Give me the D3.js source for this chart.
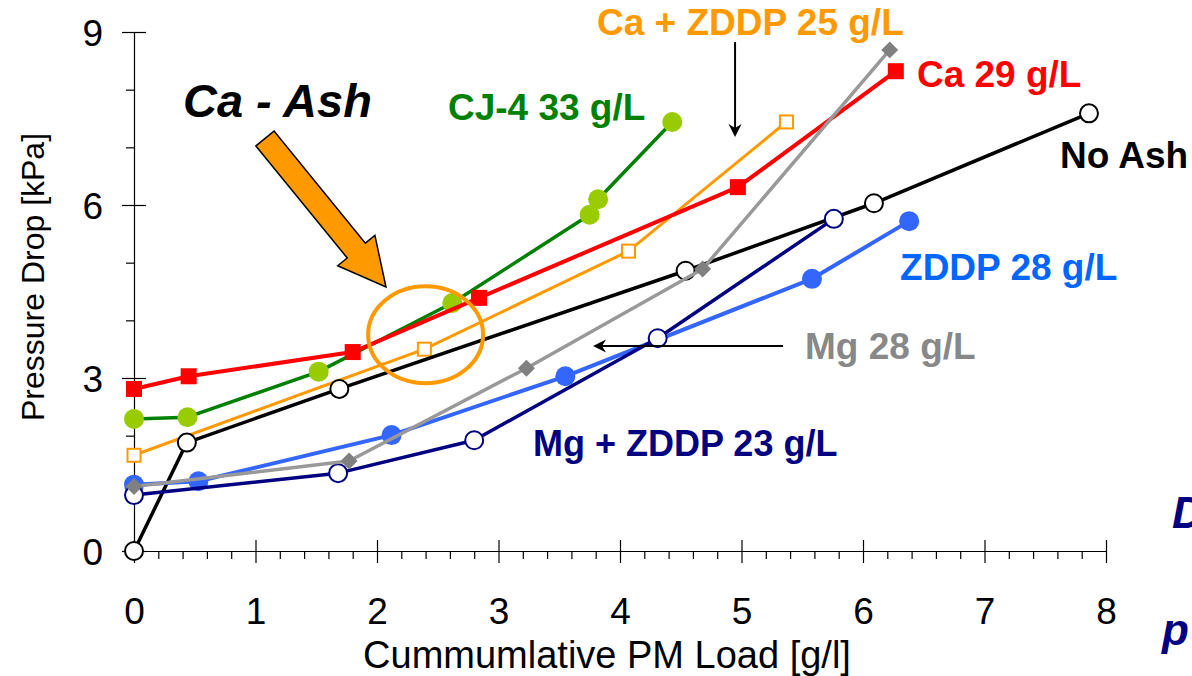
<!DOCTYPE html>
<html>
<head>
<meta charset="utf-8">
<script src="https://cdn.jsdelivr.net/npm/d3@7"></script>
<style>
  html, body { margin: 0; padding: 0; background: #fff; }
  svg { display: block; font-family: "Liberation Sans", Arial, Helvetica, sans-serif; }
</style>
</head>
<body>
<svg id="chart" width="1192" height="676"></svg>
<script>
// ---------- data ----------
const xTicks = [0, 1, 2, 3, 4, 5, 6, 7, 8];
const yTicks = [0, 3, 6, 9];

const noAshX = [0, 0.435, 1.69, 4.54, 6.09, 7.86];
const noAshY = [0, 1.88, 2.81, 4.86, 6.03, 7.59];

const ca29X = [0, 0.45, 1.80, 2.84, 4.97, 6.27];
const ca29Y = [2.81, 3.03, 3.45, 4.39, 6.31, 8.32];

const cj4X = [0, 0.44, 1.52, 2.62, 3.75, 3.82, 4.43];
const cj4Y = [2.29, 2.32, 3.11, 4.30, 5.83, 6.10, 7.44];

const caZddpX = [0, 2.39, 4.07, 5.37];
const caZddpY = [1.66, 3.50, 5.20, 7.44];

const mg28X = [0, 1.77, 3.23, 4.68, 6.22];
const mg28Y = [1.12, 1.56, 3.17, 4.89, 8.69];

const zddp28X = [0, 0.53, 2.12, 3.55, 5.58, 6.38];
const zddp28Y = [1.15, 1.21, 2.01, 3.03, 4.72, 5.72];

const mgZddpX = [0, 1.68, 2.80, 4.31, 5.76];
const mgZddpY = [0.97, 1.35, 1.92, 3.69, 5.76];

// ---------- styles ----------
const series = [
  { x: cj4X, y: cj4Y, line: "#008000", lw: 3.5, marker: "circle", size: 10, fill: "#99CC00", stroke: "none", sw: 0 },
  { x: caZddpX, y: caZddpY, line: "#FF9900", lw: 3, marker: "square", size: 13, fill: "#FFFFFF", stroke: "#FF9900", sw: 2 },
  { x: ca29X, y: ca29Y, line: "#FF0000", lw: 4, marker: "square", size: 16, fill: "#FF0000", stroke: "none", sw: 0 },
  { x: noAshX, y: noAshY, line: "#000000", lw: 3.5, marker: "circle", size: 9, fill: "#FFFFFF", stroke: "#000000", sw: 2 },
  { x: zddp28X, y: zddp28Y, line: "#3366FF", lw: 4, marker: "circle", size: 10, fill: "#3366FF", stroke: "none", sw: 0 },
  { x: mgZddpX, y: mgZddpY, line: "#000080", lw: 3.5, marker: "circle", size: 9, fill: "#FFFFFF", stroke: "#000080", sw: 2 },
  { x: mg28X, y: mg28Y, line: "#999999", lw: 3.5, marker: "diamond", size: 12, fill: "#808080", stroke: "none", sw: 0 }
];

const labels = [
  { text: "Ca - Ash", x: 0.403, y: 7.526, color: "#000000", size: 47, italic: true },
  { text: "CJ-4 33 g/L", x: 2.584, y: 7.474, color: "#008000", size: 37 },
  { text: "Ca + ZDDP 25 g/L", x: 3.811, y: 8.948, color: "#FF9900", size: 37 },
  { text: "Ca 29 g/L", x: 6.444, y: 8.046, color: "#FF0000", size: 37 },
  { text: "No Ash", x: 7.621, y: 6.641, color: "#000000", size: 37 },
  { text: "ZDDP 28 g/L", x: 6.305, y: 4.699, color: "#0066FF", size: 37 },
  { text: "Mg 28 g/L", x: 5.523, y: 3.329, color: "#888888", size: 37 },
  { text: "Mg + ZDDP 23 g/L", x: 3.284, y: 1.647, color: "#000080", size: 36 },
  { text: "D", x: 8.543, y: 0.399, color: "#000080", size: 44, italic: true },
  { text: "p", x: 8.461, y: -1.63, color: "#000080", size: 44, italic: true }
];

// ---------- layout ----------
const svg = d3.select("#chart");
const x = d3.scaleLinear().domain([0, 8]).range([134, 1106]);
const y = d3.scaleLinear().domain([0, 9]).range([551, 32]);

// axes
const minorX = d3.range(0, 8.0001, 0.2).map(v => +v.toFixed(1)).filter(v => Math.abs(v - Math.round(v)) > 1e-6);
const minorY = [1, 2, 4, 5, 7, 8];

svg.append("g").attr("transform", `translate(0,${y(0)})`)
  .call(d3.axisBottom(x).tickValues(minorX).tickSize(8).tickFormat(""))
  .call(g => g.select(".domain").remove());
svg.append("g").attr("transform", `translate(0,${y(0)})`)
  .call(d3.axisTop(x).tickValues(xTicks).tickSize(11).tickFormat(""))
  .call(g => g.select(".domain").remove());
const gx = svg.append("g").attr("transform", `translate(0,${y(0)})`)
  .call(d3.axisBottom(x).tickValues(xTicks).tickSize(12).tickSizeOuter(0).tickFormat(d3.format("d")));
gx.selectAll("text").attr("y", 73).attr("dy", null)
  .attr("font-size", 37).attr("font-family", "Liberation Sans, Arial, sans-serif").attr("fill", "#000");

svg.append("g").attr("transform", `translate(${x(0)},0)`)
  .call(d3.axisLeft(y).tickValues(minorY).tickSize(8).tickFormat(""))
  .call(g => g.select(".domain").remove());
svg.append("g").attr("transform", `translate(${x(0)},0)`)
  .call(d3.axisRight(y).tickValues(yTicks).tickSize(12).tickFormat(""))
  .call(g => g.select(".domain").remove());
const gy = svg.append("g").attr("transform", `translate(${x(0)},0)`)
  .call(d3.axisLeft(y).tickValues(yTicks).tickSize(12).tickSizeOuter(0).tickFormat(d3.format("d")));
gy.selectAll("text").attr("x", -31).attr("dy", "0.36em")
  .attr("font-size", 37).attr("font-family", "Liberation Sans, Arial, sans-serif").attr("fill", "#000");

svg.selectAll(".tick line, .domain").attr("stroke", "#000").attr("stroke-width", 1.2);

// axis titles
svg.append("text").attr("x", 607).attr("y", 668).attr("text-anchor", "middle")
  .attr("font-size", 38).text("Cummumlative PM Load [g/l]");
svg.append("text").attr("transform", "translate(44,277) rotate(-90)").attr("text-anchor", "middle")
  .attr("font-size", 32).text("Pressure Drop [kPa]");

// lines & markers
const lineGen = d3.line().x(d => x(d[0])).y(d => y(d[1]));
series.forEach(s => {
  const pts = s.x.map((v, i) => [v, s.y[i]]);
  svg.append("path").datum(pts).attr("d", lineGen)
    .attr("fill", "none").attr("stroke", s.line).attr("stroke-width", s.lw).attr("stroke-linejoin", "round");
  const g = svg.append("g");
  pts.forEach(p => {
    let m;
    if (s.marker === "circle") {
      m = g.append("circle").attr("cx", x(p[0])).attr("cy", y(p[1])).attr("r", s.size);
    } else if (s.marker === "square") {
      m = g.append("rect").attr("x", x(p[0]) - s.size / 2).attr("y", y(p[1]) - s.size / 2)
        .attr("width", s.size).attr("height", s.size);
    } else {
      m = g.append("rect").attr("x", -s.size / 2).attr("y", -s.size / 2)
        .attr("width", s.size).attr("height", s.size)
        .attr("transform", `translate(${x(p[0])},${y(p[1])}) rotate(45)`);
    }
    m.attr("fill", s.fill).attr("stroke", s.stroke).attr("stroke-width", s.sw);
  });
});

// orange ellipse annotation
svg.append("ellipse").attr("cx", x(2.4)).attr("cy", y(3.75))
  .attr("rx", x(0.473) - x(0)).attr("ry", y(0) - y(0.84))
  .attr("fill", "none").attr("stroke", "#FF9900").attr("stroke-width", 4);

// big orange arrow
(function () {
  const tail = [x(1.078), y(7.153)], tip = [x(2.074), y(4.578)];
  const dx = tip[0] - tail[0], dy = tip[1] - tail[1];
  const L = Math.hypot(dx, dy), ux = dx / L, uy = dy / L, nx = -uy, ny = ux;
  const sw = 11.7, hw = 24, hl = 47;
  const bx = tip[0] - ux * hl, by = tip[1] - uy * hl;
  const pts = [
    [tail[0] + nx * sw, tail[1] + ny * sw],
    [bx + nx * sw, by + ny * sw],
    [bx + nx * hw, by + ny * hw],
    tip,
    [bx - nx * hw, by - ny * hw],
    [bx - nx * sw, by - ny * sw],
    [tail[0] - nx * sw, tail[1] - ny * sw]
  ];
  svg.append("path").attr("d", "M" + pts.map(p => p.join(",")).join("L") + "Z")
    .attr("fill", "#FF9900").attr("stroke", "#000").attr("stroke-width", 1.5).attr("stroke-linejoin", "miter");
})();

// thin black arrows
function thinArrow(x1, y1, x2, y2) {
  const a = [x(x1), y(y1)], b = [x(x2), y(y2)];
  const dx = b[0] - a[0], dy = b[1] - a[1];
  const L = Math.hypot(dx, dy), ux = dx / L, uy = dy / L, nx = -uy, ny = ux;
  const hl = 13, hw = 6.5, notch = 4;
  svg.append("line").attr("x1", a[0]).attr("y1", a[1])
    .attr("x2", b[0] - ux * 6).attr("y2", b[1] - uy * 6)
    .attr("stroke", "#000").attr("stroke-width", 2);
  const p = [b,
    [b[0] - ux * hl + nx * hw, b[1] - uy * hl + ny * hw],
    [b[0] - ux * (hl - notch), b[1] - uy * (hl - notch)],
    [b[0] - ux * hl - nx * hw, b[1] - uy * hl - ny * hw]];
  svg.append("path").attr("d", "M" + p.map(q => q.join(",")).join("L") + "Z").attr("fill", "#000");
}
thinArrow(4.947, 8.826, 4.947, 7.179);
thinArrow(5.342, 3.555, 3.778, 3.555);

// text labels
labels.forEach(l => {
  svg.append("text").attr("x", x(l.x)).attr("y", y(l.y))
    .attr("font-size", l.size).attr("font-weight", "bold")
    .attr("font-style", l.italic ? "italic" : "normal")
    .attr("fill", l.color).text(l.text);
});
</script>
</body>
</html>
